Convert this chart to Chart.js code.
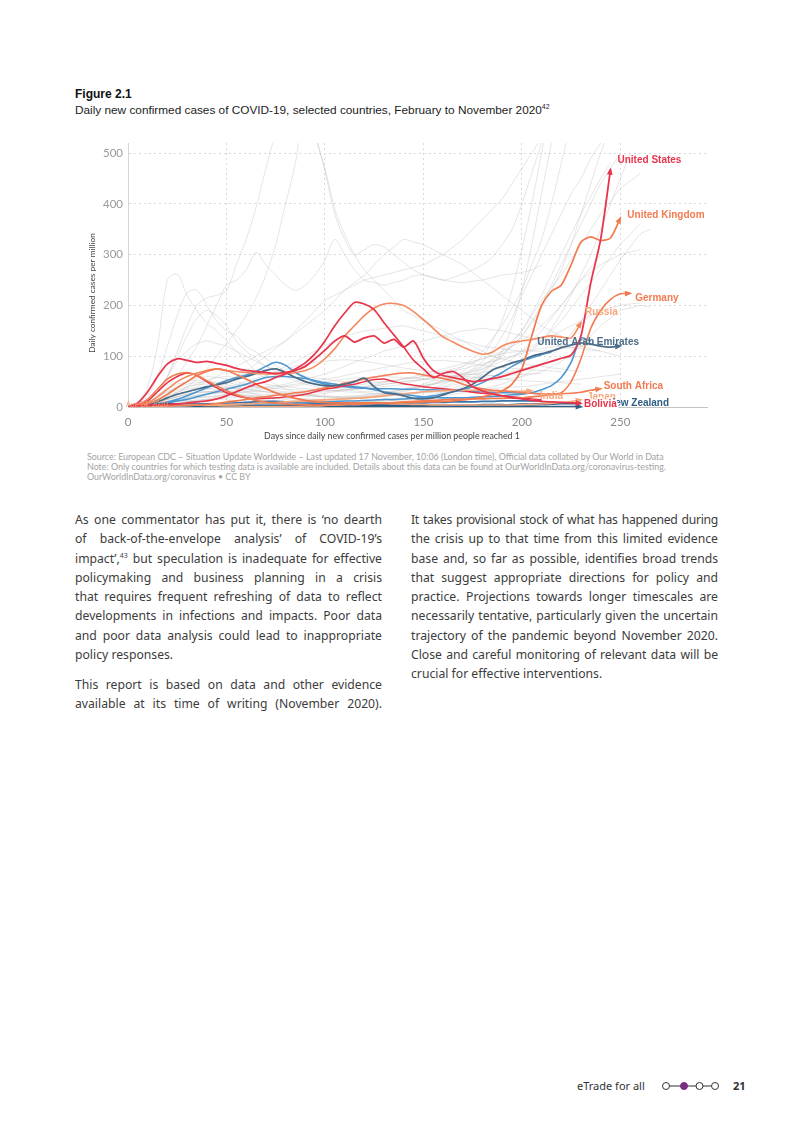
<!DOCTYPE html>
<html>
<head>
<meta charset="utf-8">
<script src="https://cdn.jsdelivr.net/npm/chart.js@4.4.0/dist/chart.umd.min.js"></script>
<style>
  body { margin: 0; background: #fff; }
  .page { position: relative; width: 793px; height: 1122px; overflow: hidden; font-family: 'Noto Sans', sans-serif; }
  .fig-no { position: absolute; left: 75px; top: 87px; font: bold 12px 'Liberation Sans', Arial, sans-serif; color: #111; }
  .fig-title { position: absolute; left: 75px; top: 103px; font: 11.8px 'Liberation Sans', Arial, sans-serif; color: #222; }
  .fig-title sup, .col sup { font-size: 7px; line-height: 0; vertical-align: 5px; }
  #chartBox { position: absolute; left: 70px; top: 130px; width: 650px; height: 320px; }
  .source { position: absolute; left: 87px; top: 452px; font: 8.9px Lato, sans-serif; color: #a3a3a3; line-height: 10px; white-space: nowrap; }
  .col { position: absolute; width: 307px; font-size: 12.2px; line-height: 19.3px; color: #3c3c3c; }
  .col div { text-align: justify; text-align-last: justify; }
  .col div.last { text-align-last: left; }
  .col div.tight { letter-spacing: -0.3px; word-spacing: -1.5px; }
  .footer { position: absolute; top: 1078px; font-size: 11px; color: #333; }
</style>
</head>
<body>
<div class="page">
  <div class="fig-no">Figure 2.1</div>
  <div class="fig-title">Daily new confirmed cases of COVID-19, selected countries, February to November 2020<sup>42</sup></div>

  <div id="chartBox"><canvas id="chart" width="650" height="320"></canvas></div>

  <div class="source">
    Source: European CDC – Situation Update Worldwide – Last updated 17 November, 10:06 (London time), Official data collated by Our World in Data<br>
    Note: Only countries for which testing data is available are included. Details about this data can be found at OurWorldInData.org/coronavirus-testing.<br>
    OurWorldInData.org/coronavirus • CC BY
  </div>

  <div class="col" style="left:75px; top:510px;">
    <div>As one commentator has put it, there is ‘no dearth</div>
    <div>of back-of-the-envelope analysis’ of COVID-19’s</div>
    <div>impact’,<sup>43</sup> but speculation is inadequate for effective</div>
    <div>policymaking and business planning in a crisis</div>
    <div>that requires frequent refreshing of data to reflect</div>
    <div>developments in infections and impacts. Poor data</div>
    <div>and poor data analysis could lead to inappropriate</div>
    <div class="last">policy responses.</div>
  </div>
  <div class="col" style="left:75px; top:675px;">
    <div>This report is based on data and other evidence</div>
    <div>available at its time of writing (November 2020).</div>
  </div>
  <div class="col" style="left:411px; top:510px;">
    <div class="tight">It takes provisional stock of what has happened during</div>
    <div>the crisis up to that time from this limited evidence</div>
    <div>base and, so far as possible, identifies broad trends</div>
    <div>that suggest appropriate directions for policy and</div>
    <div>practice. Projections towards longer timescales are</div>
    <div>necessarily tentative, particularly given the uncertain</div>
    <div>trajectory of the pandemic beyond November 2020.</div>
    <div>Close and careful monitoring of relevant data will be</div>
    <div class="last">crucial for effective interventions.</div>
  </div>

  <div class="footer" style="left:577px;">eTrade for all</div>
  <svg style="position:absolute; left:660px; top:1080px;" width="62" height="12">
    <line x1="9" y1="6" x2="51" y2="6" stroke="#333" stroke-width="1"/>
    <circle cx="6" cy="6" r="3.5" fill="#fff" stroke="#333" stroke-width="1"/>
    <circle cx="24" cy="6" r="3.5" fill="#7b2b83" stroke="#7b2b83" stroke-width="1"/>
    <circle cx="39.5" cy="6" r="3.5" fill="#fff" stroke="#333" stroke-width="1"/>
    <circle cx="55" cy="6" r="3.5" fill="#fff" stroke="#333" stroke-width="1"/>
  </svg>
  <div class="footer" style="left:733px; font-weight:bold;">21</div>
</div>

<script>
// days since daily new confirmed cases per million reached 1
const days = [0, 5, 10, 15, 20, 25, 30, 35, 40, 45, 50, 55, 60, 65, 70, 75, 80, 85, 90, 95,
  100, 105, 110, 115, 120, 125, 130, 135, 140, 145, 150, 155, 160, 165, 170, 175, 180, 185, 190, 195,
  200, 205, 210, 215, 220, 225, 230, 235, 240, 245, 250, 255, 260, 265]
const xTicks = [0, 50, 100, 150, 200, 250]
const yTicks = [0, 100, 200, 300, 400, 500]

// highlighted countries (daily confirmed cases per million)
const usa = [1, 8, 30, 60, 85, 95, 92, 88, 90, 86, 82, 76, 72, 70, 68, 66, 68, 72, 80, 95,
  112, 130, 140, 128, 136, 140, 126, 133, 118, 130, 96, 72, 62, 58, 54, 50, 52, 56, 60, 66,
  72, 78, 84, 90, 96, 102, 140, 245, 330, 468]
const uk = [0, 2, 6, 14, 25, 38, 50, 62, 70, 75, 72, 64, 55, 45, 36, 28, 22, 17, 13, 10,
  9, 8, 8, 8, 8, 8, 8, 8, 9, 9, 10, 10, 11, 12, 14, 16, 20, 25, 32, 45,
  75, 140, 200, 228, 240, 280, 325, 335, 328, 333, 372]
const germany = [0, 4, 15, 35, 55, 65, 68, 62, 52, 42, 32, 24, 18, 13, 10, 8, 6, 5, 5, 4,
  4, 4, 5, 5, 6, 7, 8, 9, 10, 11, 12, 13, 14, 15, 15, 16, 16, 17, 17, 18,
  18, 20, 22, 24, 28, 50, 95, 155, 190, 212, 223, 224]
const russia = [0, 2, 8, 20, 35, 50, 60, 67, 72, 75, 72, 70, 68, 66, 65, 65, 66, 68, 72, 80,
  95, 115, 140, 160, 180, 195, 203, 204, 200, 188, 172, 155, 138, 128, 118, 110, 104, 108, 120, 127,
  130, 133, 137, 140, 138, 136, 166]
const uae = [0, 2, 5, 10, 18, 25, 30, 35, 40, 44, 48, 55, 60, 66, 72, 75, 68, 58, 50, 45,
  42, 42, 45, 50, 57, 40, 28, 26, 22, 17, 16, 18, 24, 30, 36, 45, 58, 73, 80, 87,
  92, 100, 105, 110, 117, 122, 126, 124, 120, 118, 120]
const southAfrica = [0, 1, 1, 2, 2, 3, 3, 4, 5, 7, 10, 12, 15, 18, 20, 23, 25, 28, 30, 34,
  38, 42, 47, 51, 55, 59, 62, 65, 67, 67, 63, 60, 56, 52, 45, 40, 36, 33, 32, 30,
  28, 27, 26, 26, 26, 27, 29, 33, 36]
const india = [0, 1, 1, 2, 2, 3, 3, 4, 4, 5, 5, 6, 6, 7, 8, 9, 10, 11, 12, 13,
  14, 15, 16, 17, 18, 20, 22, 24, 26, 28, 30, 31, 32, 33, 33, 33, 32, 32, 31, 31,
  31, 32]
const japan = [0, 1, 1, 2, 3, 3, 4, 4, 3, 3, 2, 2, 1, 1, 1, 1, 1, 1, 2, 2,
  3, 4, 5, 6, 6, 7, 7, 6, 6, 5, 5, 4, 4, 4, 4, 4, 4, 4, 4, 4,
  5, 5, 6, 7, 9, 11, 14]
const bolivia = [1, 2, 3, 4, 5, 6, 8, 10, 12, 16, 22, 30, 38, 45, 50, 58, 65, 75, 87, 105,
  130, 160, 185, 206, 203, 192, 166, 142, 118, 92, 75, 58, 66, 70, 58, 40, 32, 26, 22, 18,
  16, 13, 11, 10, 9, 8, 7]
const newZealand = [0, 1, 3, 5, 6, 5, 3, 2, 1, 0.5, 0.3, 0.2, 0.2, 0.2, 0.1, 0.1, 0.1, 0.1, 0.1, 0.1,
  0.2, 0.5, 0.8, 0.6, 0.4, 0.3, 0.3, 0.4, 0.5, 0.5, 0.4, 0.3, 0.3, 0.4, 0.5, 0.5, 0.6, 0.5, 0.4, 0.4,
  0.5, 0.6, 0.6, 0.5, 0.5, 0.5, 0.5]

// other coloured, unlabelled countries
const redEarly = [0, 3, 12, 30, 48, 60, 67, 62, 50, 38, 28, 22, 18, 16, 17, 18, 20, 22, 25, 30,
  35, 38, 42, 45, 50, 54, 55, 50, 46, 43, 40, 38, 36, 34, 32, 29, 27, 25, 22, 20,
  18, 16, 14]
const skyEarly = [0, 1, 3, 6, 10, 15, 22, 30, 38, 45, 52, 58, 63, 70, 80, 88, 82, 68, 58, 50,
  45, 42, 40, 38, 37, 36, 36, 36, 35, 35, 34, 34, 33, 33, 32, 31, 30, 29, 28, 28,
  27, 27, 26]
const skyLate = [0, 1, 2, 5, 8, 12, 15, 20, 25, 30, 35, 40, 45, 52, 58, 60, 60, 58, 56, 52,
  48, 45, 42, 40, 38, 34, 30, 27, 25, 22, 20, 19, 18, 18, 18, 19, 20, 21, 22, 24,
  25, 28, 34, 42, 58, 88, 136, 130]
const skyRise = [0, 0, 1, 1, 2, 2, 3, 3, 4, 4, 5, 5, 6, 6, 7, 7, 8, 8, 9, 9,
  10, 11, 12, 12, 13, 14, 15, 15, 16, 17, 19, 22, 26, 30, 34, 40, 48, 58, 68, 80,
  90, 97, 103, 108]
const navyLow1 = [0, 0, 1, 2, 3, 4, 5, 5, 5, 4, 4, 3, 3, 3, 3, 3, 3, 4, 4, 4,
  5, 5, 5, 5, 4, 4, 4, 4, 3, 3, 3, 3, 3, 3, 3, 3, 4, 4, 4, 4,
  5, 5, 6, 6, 7, 7, 8]
const navyLow2 = [0, 1, 1, 2, 2, 3, 3, 4, 5, 6, 7, 8, 9, 10, 11, 11, 10, 9, 8, 7,
  6, 6, 5, 5, 5, 6, 6, 7, 7, 8, 8, 9, 9, 10, 10, 10, 11, 11, 12, 12,
  12, 12, 13]

// remaining countries, drawn in grey
const grayA = [2, 10, 40, 120, 250, 262, 220, 190, 165, 150, 130, 110, 90, 70, 55, 45, 35, 30, 25, 22,
  20, 19, 18, 19, 20, 22, 25, 27, 30, 35, 40, 45, 50, 57, 65, 75, 90, 110, 140, 175,
  220, 260, 300, 340, 380, 420, 450, 490, 520, 560]
const grayB = [1, 5, 20, 60, 120, 180, 225, 230, 200, 170, 150, 140, 120, 108, 95, 82, 70, 60, 50, 45,
  40, 37, 35, 32, 30, 30, 30, 32, 35, 40, 45, 52, 60, 70, 80, 95, 110, 135, 160, 195,
  230, 280, 330, 400, 480, 560]
const grayC = [1, 4, 12, 30, 60, 100, 140, 175, 190, 180, 160, 130, 110, 95, 80, 70, 60, 52, 45, 40,
  35, 32, 30, 29, 28, 26, 25, 25, 25, 27, 30, 35, 40, 47, 55, 65, 75, 88, 100, 125,
  150, 185, 220, 260, 300, 340, 380, 415, 450, 480]
const grayD = [1, 5, 15, 30, 60, 110, 160, 200, 215, 220, 229, 280, 330, 393, 470, 540, 600, 620, 580, 530,
  470, 390, 340, 300, 270, 250, 230, 210, 190, 180, 170, 160, 150, 140, 130, 120, 110, 100, 95, 90,
  85, 82, 80, 77, 75, 72, 70]
const grayE = [1, 4, 10, 22, 40, 60, 90, 120, 160, 200, 240, 250, 270, 305, 280, 260, 240, 230, 240, 260,
  290, 330, 300, 270, 250, 245, 240, 245, 250, 258, 260, 255, 250, 247, 245, 248, 250, 255, 260, 262,
  265, 270, 280]
const grayF = [1, 3, 5, 9, 15, 22, 30, 40, 50, 60, 70, 80, 90, 100, 110, 120, 130, 145, 160, 175,
  190, 210, 230, 245, 260, 280, 300, 315, 330, 325, 320, 310, 300, 290, 280, 265, 250, 235, 220, 205,
  190, 175, 160, 150, 140, 130, 120, 115, 110]
const grayG = [1, 2, 5, 10, 18, 28, 40, 55, 75, 100, 125, 150, 180, 215, 260, 320, 400, 480, 600, 540,
  465, 380, 330, 300, 310, 320, 315, 300, 285, 270, 260, 255, 250, 255, 262, 270, 280, 295, 320, 350,
  400, 460, 520]
const grayH = [1, 3, 5, 8, 10, 11, 12, 12, 10, 8, 6, 5, 4, 3, 3, 3, 4, 4, 5, 5,
  6, 7, 8, 9, 10, 11, 12, 13, 14, 16, 18, 21, 25, 32, 40, 52, 65, 85, 110, 160,
  230, 320, 420, 520]
const grayI = [1, 4, 8, 15, 25, 33, 40, 44, 45, 43, 40, 35, 30, 25, 20, 17, 15, 12, 10, 9,
  8, 8, 8, 9, 10, 11, 12, 13, 15, 17, 20, 25, 30, 37, 45, 57, 70, 85, 100, 120,
  140, 170, 200, 240, 280, 320, 360, 400, 440, 470, 500]
const grayJ = [1, 3, 5, 10, 15, 20, 25, 28, 30, 29, 28, 25, 22, 18, 15, 12, 10, 9, 8, 8,
  7, 7, 8, 9, 10, 12, 14, 17, 20, 25, 30, 37, 45, 52, 60, 70, 80, 95, 110, 130,
  150, 180, 210, 235, 260, 290, 320, 350, 380, 405, 430, 445, 460]
const grayK = [1, 5, 10, 20, 30, 40, 50, 57, 60, 58, 55, 50, 45, 40, 35, 32, 30, 29, 28, 29,
  30, 32, 35, 37, 40, 42, 45, 47, 50, 52, 55, 57, 60, 62, 65, 70, 75, 82, 90, 100,
  110, 120, 130, 140, 150, 160, 170, 180, 190, 195, 200, 203, 205]
const grayL = [0, 1, 3, 5, 8, 11, 15, 18, 20, 22, 25, 27, 30, 32, 35, 37, 40, 42, 45, 47,
  50, 52, 55, 57, 58, 59, 60, 59, 58, 57, 55, 53, 52, 51, 50, 51, 52, 53, 55, 57,
  60, 65, 70, 80, 90, 105, 120, 140, 160, 175, 190, 195, 200, 197]
const grayM = [1, 5, 15, 35, 60, 90, 110, 125, 130, 125, 120, 110, 100, 90, 80, 75, 70, 65, 60, 57,
  55, 52, 50, 49, 48, 49, 50, 52, 55, 57, 60, 65, 70, 75, 80, 88, 95, 102, 110, 120,
  130, 145, 160, 180, 200, 225, 250, 275, 300]
const grayN = [0, 1, 2, 3, 5, 7, 10, 12, 15, 20, 25, 32, 40, 50, 60, 70, 80, 90, 100, 110,
  120, 130, 140, 145, 150, 152, 155, 158, 160, 155, 150, 145, 140, 135, 130, 125, 120, 117, 115, 112,
  110, 110, 110, 112, 115, 117, 120, 122, 125]
const grayO = [0, 2, 5, 10, 15, 20, 25, 28, 30, 32, 35, 37, 38, 39, 40, 42, 45, 50, 55, 60,
  65, 72, 80, 88, 95, 102, 110, 115, 120, 125, 130, 135, 140, 145, 150, 152, 155, 152, 150, 145,
  140, 135, 130, 125, 120, 117, 115, 112, 110, 105, 100]
const grayP = [0, 2, 5, 8, 12, 16, 20, 23, 25, 27, 28, 29, 30, 30, 30, 29, 28, 26, 25, 23,
  22, 21, 20, 20, 20, 21, 22, 23, 25, 26, 28, 29, 30, 31, 32, 33, 35, 36, 38, 39,
  40, 42, 45, 47, 50, 52, 55, 57, 60, 62, 65]
const grayQ = [0, 1, 3, 5, 8, 11, 15, 18, 20, 21, 22, 22, 22, 21, 20, 19, 18, 16, 15, 15,
  15, 16, 18, 20, 22, 25, 28, 31, 35, 38, 42, 45, 48, 52, 55, 57, 60, 62, 65, 70,
  75, 80, 85, 90, 95, 98, 100]
const grayR = [0, 4, 10, 20, 30, 38, 45, 48, 50, 49, 48, 45, 42, 40, 38, 36, 35, 34, 33, 32,
  32, 32, 33, 34, 36, 38, 40, 42, 45, 50, 55, 60, 65, 70, 75, 80, 85, 90, 95, 100,
  105, 115, 130, 150, 170, 195, 220, 245, 270, 295, 320, 340, 360]
const grayS = [0, 1, 2, 4, 6, 8, 10, 12, 15, 16, 18, 19, 20, 21, 22, 23, 25, 27, 30, 32,
  35, 37, 40, 42, 45, 47, 50, 52, 55, 57, 60, 61, 62, 61, 60, 59, 58, 56, 55, 53,
  52, 51, 50, 49, 48, 46, 45]
const grayT = [0, 2, 5, 12, 20, 28, 35, 38, 40, 39, 38, 36, 35, 32, 30, 27, 25, 23, 22, 21,
  20, 19, 18, 18, 18, 19, 20, 22, 25, 27, 30, 34, 38, 43, 48, 54, 60, 70, 80, 95,
  110, 130, 150, 175, 200, 225, 250, 265, 280, 290, 300, 305, 310]
const grayU = [0, 2, 4, 7, 10, 14, 18, 22, 25, 28, 30, 32, 34, 36, 38, 40, 42, 45, 48, 51,
  55, 58, 62, 66, 70, 74, 78, 81, 85, 88, 90, 91, 92, 90, 88, 85, 82, 80, 78, 76,
  75, 73, 72, 71, 70]
const grayV = [0, 4, 8, 14, 20, 25, 28, 29, 30, 29, 28, 26, 24, 22, 20, 19, 18, 17, 16, 15,
  14, 13, 12, 12, 12, 12, 13, 14, 15, 16, 18, 20, 22, 25, 28, 31, 35, 40, 45, 52,
  60, 72, 85, 100, 120, 145, 170, 200, 230, 260, 290, 315, 340, 350, 360]
const grayW = [0, 3, 8, 15, 22, 30, 38, 45, 52, 58, 60, 58, 54, 50, 45, 42, 40, 38, 36, 35,
  34, 33, 34, 36, 38, 41, 44, 47, 50, 52, 54, 56, 58, 60, 62, 65, 68, 72, 78, 85,
  95, 110, 130, 155, 185, 220, 260, 300, 350, 400, 450, 500]
const grayX = [0, 2, 6, 12, 18, 24, 30, 34, 36, 35, 33, 30, 28, 26, 25, 24, 23, 23, 24, 25,
  27, 30, 33, 36, 40, 44, 48, 52, 56, 60, 65, 70, 75, 80, 85, 90, 95, 100, 105, 108,
  110, 112, 115, 118, 120, 123, 125]
const grayY = [1, 6, 14, 25, 35, 45, 50, 52, 50, 47, 44, 40, 36, 33, 30, 28, 26, 24, 22, 21,
  20, 20, 21, 22, 24, 26, 28, 31, 34, 38, 42, 47, 52, 58, 65, 73, 82, 92, 105, 120,
  140, 165, 195, 230, 270, 320, 380, 440, 500, 550]
const grayZ = [0, 1, 3, 6, 10, 14, 18, 23, 28, 33, 38, 44, 50, 56, 62, 68, 74, 80, 85, 88,
  90, 92, 93, 92, 90, 87, 84, 80, 77, 74, 72, 70, 68, 66, 65, 64, 63, 62, 62, 63,
  64, 65, 66]
const grayTall1 = [1, 3, 6, 10, 15, 20, 25, 30, 35, 40, 50, 60, 70, 85, 100, 115, 130, 150, 170, 190,
  210, 220, 230, 240, 250, 255, 260, 265, 270, 275, 280, 290, 300, 315, 330, 350, 370, 390, 410, 440,
  470, 500, 530]
const grayTall2 = [1, 2, 4, 6, 8, 10, 12, 14, 15, 15, 14, 13, 12, 11, 10, 10, 10, 11, 12, 13,
  14, 15, 16, 18, 20, 22, 25, 28, 32, 36, 40, 45, 52, 60, 70, 85, 100, 130, 170, 230,
  310, 400, 500, 600]

const RED = '#e8354c'
const CORAL = '#f27a50'
const PEACH = '#f7a67a'
const SLATE = '#4b6c89'
const SKY = '#4d97d0'
const NAVY = '#2a5a82'
const GREY = 'rgba(190,190,190,0.4)'

const toPoints = values => values.map((v, i) => ({ x: days[i], y: v }))

const greys = [grayA, grayB, grayC, grayD, grayE, grayF, grayG, grayH, grayI, grayJ, grayK, grayL, grayM,
  grayN, grayO, grayP, grayQ, grayR, grayS, grayT, grayU, grayV, grayW, grayX, grayY, grayZ, grayTall1, grayTall2]

const coloured = [
  { key: 'navyLow1', values: navyLow1, color: NAVY, width: 2.2 },
  { key: 'navyLow2', values: navyLow2, color: '#3b74a8', width: 1.8 },
  { key: 'skyRise', values: skyRise, color: SKY, width: 1.5 },
  { key: 'skyEarly', values: skyEarly, color: SKY, width: 1.6 },
  { key: 'skyLate', values: skyLate, color: SKY, width: 1.6 },
  { key: 'redEarly', values: redEarly, color: RED, width: 1.5 },
  { key: 'newZealand', values: newZealand, color: '#2e5f86', width: 2.2 },
  { key: 'japan', values: japan, color: PEACH, width: 1.5 },
  { key: 'india', values: india, color: PEACH, width: 1.6 },
  { key: 'southAfrica', values: southAfrica, color: CORAL, width: 1.6 },
  { key: 'uae', values: uae, color: SLATE, width: 1.7 },
  { key: 'germany', values: germany, color: CORAL, width: 1.6 },
  { key: 'russia', values: russia, color: '#f3895d', width: 1.6 },
  { key: 'uk', values: uk, color: CORAL, width: 1.7 },
  { key: 'bolivia', values: bolivia, color: RED, width: 1.7 },
  { key: 'usa', values: usa, color: RED, width: 1.8 }
]

// label text and placement next to the end of each labelled line
const endLabels = [
  { key: 'usa', text: 'United States', color: RED, dx: 7, dy: -9 },
  { key: 'uk', text: 'United Kingdom', color: CORAL, dx: 7, dy: -3 },
  { key: 'germany', text: 'Germany', color: CORAL, dx: 5, dy: 5 },
  { key: 'russia', text: 'Russia', color: PEACH, dx: 4, dy: -10 },
  { key: 'uae', text: 'United Arab Emirates', color: SLATE, dx: -83, dy: -4 },
  { key: 'southAfrica', text: 'South Africa', color: CORAL, dx: 3, dy: -2 },
  { key: 'india', text: 'India', color: PEACH, dx: 8, dy: 5 },
  { key: 'japan', text: 'Japan', color: PEACH, dx: 6, dy: -3 },
  { key: 'newZealand', text: 'New Zealand', color: '#2e5f86', dx: 27, dy: -3 },
  { key: 'bolivia', text: 'Bolivia', color: RED, dx: 3, dy: 1, halo: true }
]

const datasets = []
coloured.slice().reverse().forEach(c => {
  datasets.push({
    key: c.key,
    data: toPoints(c.values),
    borderColor: c.color,
    borderWidth: c.width,
    tension: 0.25,
    order: 1
  })
})
greys.forEach(g => {
  datasets.push({
    data: toPoints(g),
    borderColor: GREY,
    borderWidth: 1,
    tension: 0.3,
    order: 10
  })
})

const decorations = {
  id: 'decorations',
  afterDatasetsDraw(chart) {
    const { ctx, chartArea } = chart
    ctx.save()
    // arrow heads
    for (const lab of endLabels) {
      const idx = chart.data.datasets.findIndex(d => d.key === lab.key)
      const pts = chart.getDatasetMeta(idx).data
      const p = pts[pts.length - 1]
      const q = pts[pts.length - 2]
      const ang = Math.atan2(p.y - q.y, p.x - q.x)
      ctx.fillStyle = chart.data.datasets[idx].borderColor
      ctx.beginPath()
      ctx.moveTo(p.x + Math.cos(ang) * 2, p.y + Math.sin(ang) * 2)
      ctx.lineTo(p.x - Math.cos(ang - 0.5) * 6, p.y - Math.sin(ang - 0.5) * 6)
      ctx.lineTo(p.x - Math.cos(ang + 0.5) * 6, p.y - Math.sin(ang + 0.5) * 6)
      ctx.closePath()
      ctx.fill()
    }
    // labels
    ctx.font = 'bold 10px "Liberation Sans", Arial, sans-serif'
    ctx.textBaseline = 'middle'
    ctx.textAlign = 'left'
    for (const lab of endLabels) {
      const idx = chart.data.datasets.findIndex(d => d.key === lab.key)
      const pts = chart.getDatasetMeta(idx).data
      const p = pts[pts.length - 1]
      if (lab.halo) {
        ctx.strokeStyle = '#fff'
        ctx.lineWidth = 3
        ctx.strokeText(lab.text, p.x + lab.dx, p.y + lab.dy)
      }
      ctx.fillStyle = lab.color
      ctx.fillText(lab.text, p.x + lab.dx, p.y + lab.dy)
    }
    // date tag near the origin
    ctx.font = '7px Lato, sans-serif'
    ctx.fillStyle = '#f6a27a'
    ctx.fillText('Aug 24, 2020', chartArea.left - 2, chartArea.bottom - 2)
    // axis titles
    ctx.fillStyle = '#444'
    ctx.font = '8.8px Lato, sans-serif'
    ctx.textAlign = 'center'
    ctx.fillText('Days since daily new confirmed cases per million people reached 1', chartArea.left + 264, chartArea.bottom + 29)
    ctx.translate(22, 163)
    ctx.rotate(-Math.PI / 2)
    ctx.font = '8.3px Lato, sans-serif'
    ctx.fillText('Daily confirmed cases per million', 0, 0)
    ctx.restore()
  }
}

new Chart(document.getElementById('chart'), {
  type: 'line',
  data: { datasets },
  options: {
    responsive: false,
    animation: false,
    layout: { padding: { top: 13, right: 13, left: 0, bottom: 0 } },
    elements: { point: { radius: 0 } },
    plugins: { legend: { display: false }, tooltip: { enabled: false } },
    scales: {
      x: {
        type: 'linear',
        min: 0,
        max: 294,
        afterBuildTicks: axis => { axis.ticks = xTicks.map(v => ({ value: v })) },
        afterFit: axis => { axis.height = 43 },
        grid: { color: '#dadada', lineWidth: 1, drawTicks: false },
        border: { display: true, color: '#c4c4c4', width: 1, dash: [2, 3] },
        ticks: { color: '#8a8a8a', padding: 8, font: { family: 'Lato', size: 11.5 } }
      },
      y: {
        min: 0,
        max: 520,
        afterBuildTicks: axis => { axis.ticks = yTicks.map(v => ({ value: v })) },
        afterFit: axis => { axis.width = 58 },
        grid: { color: '#dadada', lineWidth: 1, drawTicks: false },
        border: { display: true, color: '#d6d6d6', width: 1, dash: [2, 3] },
        ticks: { color: '#9a9a9a', padding: 5, font: { family: 'Lato', size: 11.5 } }
      }
    }
  },
  plugins: [decorations]
})
</script>
</body>
</html>
